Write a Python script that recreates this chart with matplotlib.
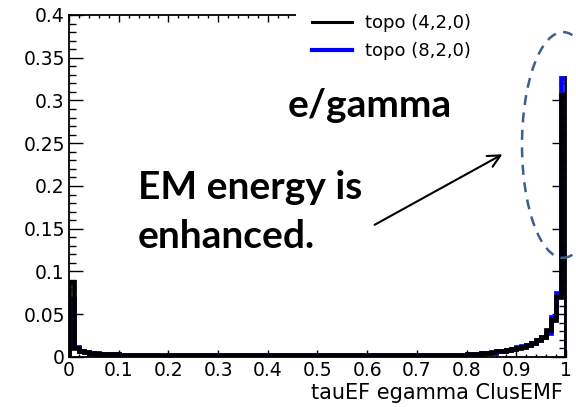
import numpy as np
import matplotlib
matplotlib.use('Agg')
import matplotlib.pyplot as plt
from matplotlib.patches import Ellipse, Rectangle
from matplotlib.ticker import MultipleLocator

# ClusEMF histograms, 100 bins between 0 and 1
topo_420 = [
    0.088, 0.010, 0.007, 0.006, 0.005, 0.0042, 0.004, 0.0035, 0.0031, 0.003,
    0.0028, 0.0027, 0.0026, 0.0025, 0.0025, 0.0024, 0.0024, 0.0023, 0.0023, 0.0022,
    0.0022, 0.0022, 0.0021, 0.0021, 0.0021, 0.0020, 0.0020, 0.0020, 0.0020, 0.0020,
    0.0019, 0.0020, 0.0019, 0.0019, 0.0020, 0.0019, 0.0019, 0.0019, 0.0020, 0.0019,
    0.0019, 0.0019, 0.0018, 0.0019, 0.0019, 0.0019, 0.0018, 0.0019, 0.0019, 0.0018,
    0.0019, 0.0019, 0.0018, 0.0019, 0.0019, 0.0019, 0.0019, 0.0018, 0.0019, 0.0019,
    0.0019, 0.0019, 0.0019, 0.0020, 0.0019, 0.0019, 0.0020, 0.0020, 0.0020, 0.0020,
    0.0020, 0.0020, 0.0021, 0.0021, 0.0022, 0.0022, 0.0023, 0.0024, 0.0025, 0.0027,
    0.0030, 0.0033, 0.0037, 0.0042, 0.0050, 0.0058, 0.0065, 0.0073, 0.0083, 0.0090,
    0.0105, 0.0118, 0.0142, 0.0168, 0.0198, 0.0235, 0.0320, 0.0430, 0.0700, 0.3060,
]
topo_820 = [
    0.068, 0.012, 0.007, 0.006, 0.0045, 0.004, 0.0038, 0.0034, 0.003, 0.003,
    0.0028, 0.0027, 0.0026, 0.0025, 0.0025, 0.0024, 0.0024, 0.0023, 0.0010, 0.0010,
    0.0022, 0.0022, 0.0021, 0.0021, 0.0021, 0.0020, 0.0020, 0.0020, 0.0012, 0.0020,
    0.0019, 0.0020, 0.0019, 0.0019, 0.0020, 0.0019, 0.0019, 0.0019, 0.0020, 0.0019,
    0.0019, 0.0019, 0.0018, 0.0019, 0.0019, 0.0019, 0.0018, 0.0019, 0.0019, 0.0018,
    0.0019, 0.0019, 0.0018, 0.0019, 0.0019, 0.0019, 0.0008, 0.0018, 0.0019, 0.0008,
    0.0008, 0.0019, 0.0019, 0.0020, 0.0019, 0.0019, 0.0020, 0.0020, 0.0020, 0.0020,
    0.0020, 0.0020, 0.0021, 0.0021, 0.0022, 0.0022, 0.0023, 0.0024, 0.0010, 0.0027,
    0.0030, 0.0033, 0.0037, 0.0042, 0.0050, 0.0045, 0.0065, 0.0073, 0.0083, 0.0090,
    0.0120, 0.0130, 0.0142, 0.0168, 0.0198, 0.0235, 0.0285, 0.0470, 0.0750, 0.3260,
]
x_labels = ['0', '0.1', '0.2', '0.3', '0.4', '0.5', '0.6', '0.7', '0.8', '0.9', '1']
y_labels = ['0', '0.05', '0.1', '0.15', '0.2', '0.25', '0.3', '0.35', '0.4']
bin_edges = np.linspace(0.0, 1.0, len(topo_420) + 1)

fig = plt.figure(figsize=(5.76, 4.07), dpi=100)
ax = fig.add_axes([0.1198, 0.1229, 0.8628, 0.8403])

ax.stairs(topo_820, bin_edges, color='#0000ff', lw=3.4, label='topo (8,2,0)', zorder=2)
ax.stairs(topo_420, bin_edges, color='black', lw=3.4, label='topo (4,2,0)', zorder=2.1)

ax.set_xlim(0, 1)
ax.set_ylim(0, 0.4)
ax.set_xticks(np.linspace(0, 1, len(x_labels)))
ax.set_xticklabels(x_labels)
ax.set_yticks(np.linspace(0, 0.4, len(y_labels)))
ax.set_yticklabels(y_labels)
ax.xaxis.set_minor_locator(MultipleLocator(0.02))
ax.yaxis.set_minor_locator(MultipleLocator(0.01))

ax.tick_params(which='both', direction='in', top=True, right=True, width=1.0, labelsize=13.5, pad=3)
ax.tick_params(axis='x', which='major', length=5)
ax.tick_params(axis='x', which='minor', length=2.5)
ax.tick_params(axis='y', which='major', length=10)
ax.tick_params(axis='y', which='minor', length=5)
for s in ax.spines.values():
    s.set_linewidth(1.3)

ax.set_xlabel('tauEF egamma ClusEMF', fontsize=15, ha='right')
ax.xaxis.set_label_coords(0.994, -0.075)

# white box behind the legend hides the upper right of the frame
ax.add_patch(Rectangle((0.457, 0.822), 0.6, 0.3, transform=ax.transAxes,
                       facecolor='white', edgecolor='none', clip_on=False, zorder=3))

h, l = ax.get_legend_handles_labels()
leg = ax.legend(h[::-1], l[::-1], loc='upper left', bbox_to_anchor=(0.475, 1.024),
                frameon=False, fontsize=13, handlelength=2.2, handletextpad=0.7,
                labelspacing=0.58, borderaxespad=0)
leg.set_zorder(4)
leg.get_lines()[0].set_linewidth(2.2)
leg.get_lines()[1].set_linewidth(3.0)

ax.text(0.6056, 0.2947, 'e/gamma', fontsize=28, fontweight='bold', family='Lato',
        ha='center', va='center')
ax.text(0.1388, 0.1977, 'EM energy is', fontsize=28, fontweight='bold', family='Lato',
        ha='left', va='center')
ax.text(0.1388, 0.1404, 'enhanced.', fontsize=28, fontweight='bold', family='Lato',
        ha='left', va='center')

ax.annotate('', xy=(0.877, 0.2386), xytext=(0.610, 0.153),
            arrowprops=dict(arrowstyle='->', lw=1.5, color='black', mutation_scale=22),
            annotation_clip=False, zorder=5)

ax.add_patch(Ellipse((0.994, 0.248), 0.165, 0.264, facecolor='none', edgecolor='#3c5f8c',
                     lw=1.8, ls=(0, (4, 3)), clip_on=False, zorder=5))

fig.savefig('out.png', dpi=100)
